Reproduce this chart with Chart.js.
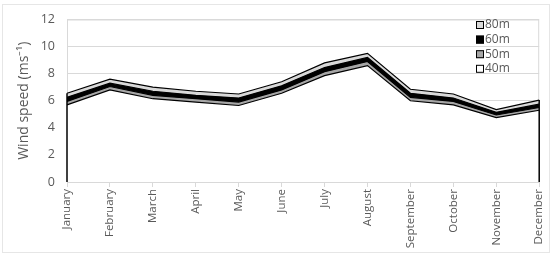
<!DOCTYPE html>
<html>
<head>
<meta charset="utf-8">
<script src="https://cdn.jsdelivr.net/npm/chart.js@4/dist/chart.umd.min.js"></script>
<style>
  html, body { margin: 0; padding: 0; background: #fff; }
  #wrap { position: relative; width: 555px; height: 257px; }
  #frame { position: absolute; left: 2px; top: 4px; width: 548px; height: 249px; border: 1px solid #e6e6e6; box-sizing: border-box; pointer-events: none; }
</style>
</head>
<body>
<div id="wrap">
  <canvas id="chart" width="555" height="257"></canvas>
  <div id="frame"></div>
</div>
<script>
const months = ['January', 'February', 'March', 'April', 'May', 'June', 'July', 'August', 'September', 'October', 'November', 'December'];
const speed40 = [5.7, 6.8, 6.15, 5.9, 5.65, 6.55, 7.85, 8.6, 6.0, 5.7, 4.75, 5.3];
const speed50 = [5.95, 7.05, 6.4, 6.15, 5.9, 6.8, 8.15, 8.9, 6.25, 5.95, 4.95, 5.5];
const speed60 = [6.25, 7.3, 6.7, 6.4, 6.2, 7.1, 8.45, 9.2, 6.55, 6.2, 5.15, 5.75];
const speed80 = [6.55, 7.6, 7.0, 6.7, 6.5, 7.4, 8.8, 9.5, 6.85, 6.5, 5.35, 6.05];
const yTicks = [0, 2, 4, 6, 8, 10, 12];

const textColor = '#595959';
const family = '"Open Sans", "Liberation Sans", Arial, sans-serif';

// plot area border + vertical edges of the areas (like Excel)
const frame = {
    id: 'frame',
    beforeDatasetsDraw(chart) {
        const a = chart.chartArea, c = chart.ctx;
        c.save();
        c.strokeStyle = '#d9d9d9';
        c.lineWidth = 1;
        c.strokeRect(a.left + 0.5, a.top + 0.5, a.right - a.left - 1, a.bottom - a.top);
        c.restore();
    },
    afterDatasetsDraw(chart) {
        const x = chart.scales.x, y = chart.scales.y, c = chart.ctx;
        const last = months.length - 1;
        c.save();
        c.strokeStyle = '#000';
        c.lineWidth = 1.5;
        [0, last].forEach(i => {
            const px = x.getPixelForValue(i);
            c.beginPath();
            c.moveTo(px, y.getPixelForValue(0));
            c.lineTo(px, y.getPixelForValue(speed80[i]));
            c.stroke();
        });
        c.restore();
    }
};

// legend drawn inside the plot, top right
const boxLegend = {
    id: 'boxLegend',
    afterDraw(chart) {
        const c = chart.ctx;
        const items = chart.data.datasets.slice().reverse();
        c.save();
        c.font = '12px ' + family;
        c.textBaseline = 'middle';
        items.forEach((ds, i) => {
            const yy = 25 + i * 14.6;
            c.fillStyle = ds.backgroundColor;
            c.fillRect(476, yy - 4, 8, 8);
            c.strokeStyle = '#000';
            c.lineWidth = 1;
            c.strokeRect(476.5, yy - 3.5, 7, 7);
            c.fillStyle = textColor;
            c.fillText(ds.label, 485, yy);
        });
        c.restore();
    }
};

const mk = (label, data, color) => ({
    label, data,
    backgroundColor: color,
    borderColor: '#000',
    borderWidth: 1.2,
    fill: 'origin',
    pointRadius: 0,
    tension: 0
});

new Chart(document.getElementById('chart').getContext('2d'), {
    type: 'line',
    data: {
        labels: months,
        datasets: [
            mk('40m', speed40, '#ffffff'),
            mk('50m', speed50, '#a6a6a6'),
            mk('60m', speed60, '#000000'),
            mk('80m', speed80, '#d9d9d9')
        ]
    },
    options: {
        responsive: false,
        animation: false,
        layout: { padding: { left: 16, top: 13, right: 15, bottom: 0 } },
        plugins: {
            legend: { display: false },
            tooltip: { enabled: false }
        },
        scales: {
            x: {
                offset: false,
                grid: { drawOnChartArea: false, drawTicks: true, tickLength: 5, color: '#d9d9d9' },
                border: { color: '#d9d9d9' },
                ticks: { color: textColor, font: { family, size: 11.5 }, minRotation: 90, maxRotation: 90, autoSkip: false, padding: 2 },
                afterFit(s) { s.height = 75; }
            },
            y: {
                min: 0, max: 12,
                afterBuildTicks(s) { s.ticks = yTicks.map(v => ({ value: v })); },
                grid: { color: '#d9d9d9', drawTicks: false },
                border: { display: false },
                ticks: { color: textColor, font: { family, size: 12.5 }, padding: 12 },
                title: { display: true, text: 'Wind speed (ms⁻¹)', color: textColor, font: { family, size: 14 }, padding: 0 },
                afterFit(s) { s.width = 51; }
            }
        }
    },
    plugins: [frame, boxLegend]
});
</script>
</body>
</html>
